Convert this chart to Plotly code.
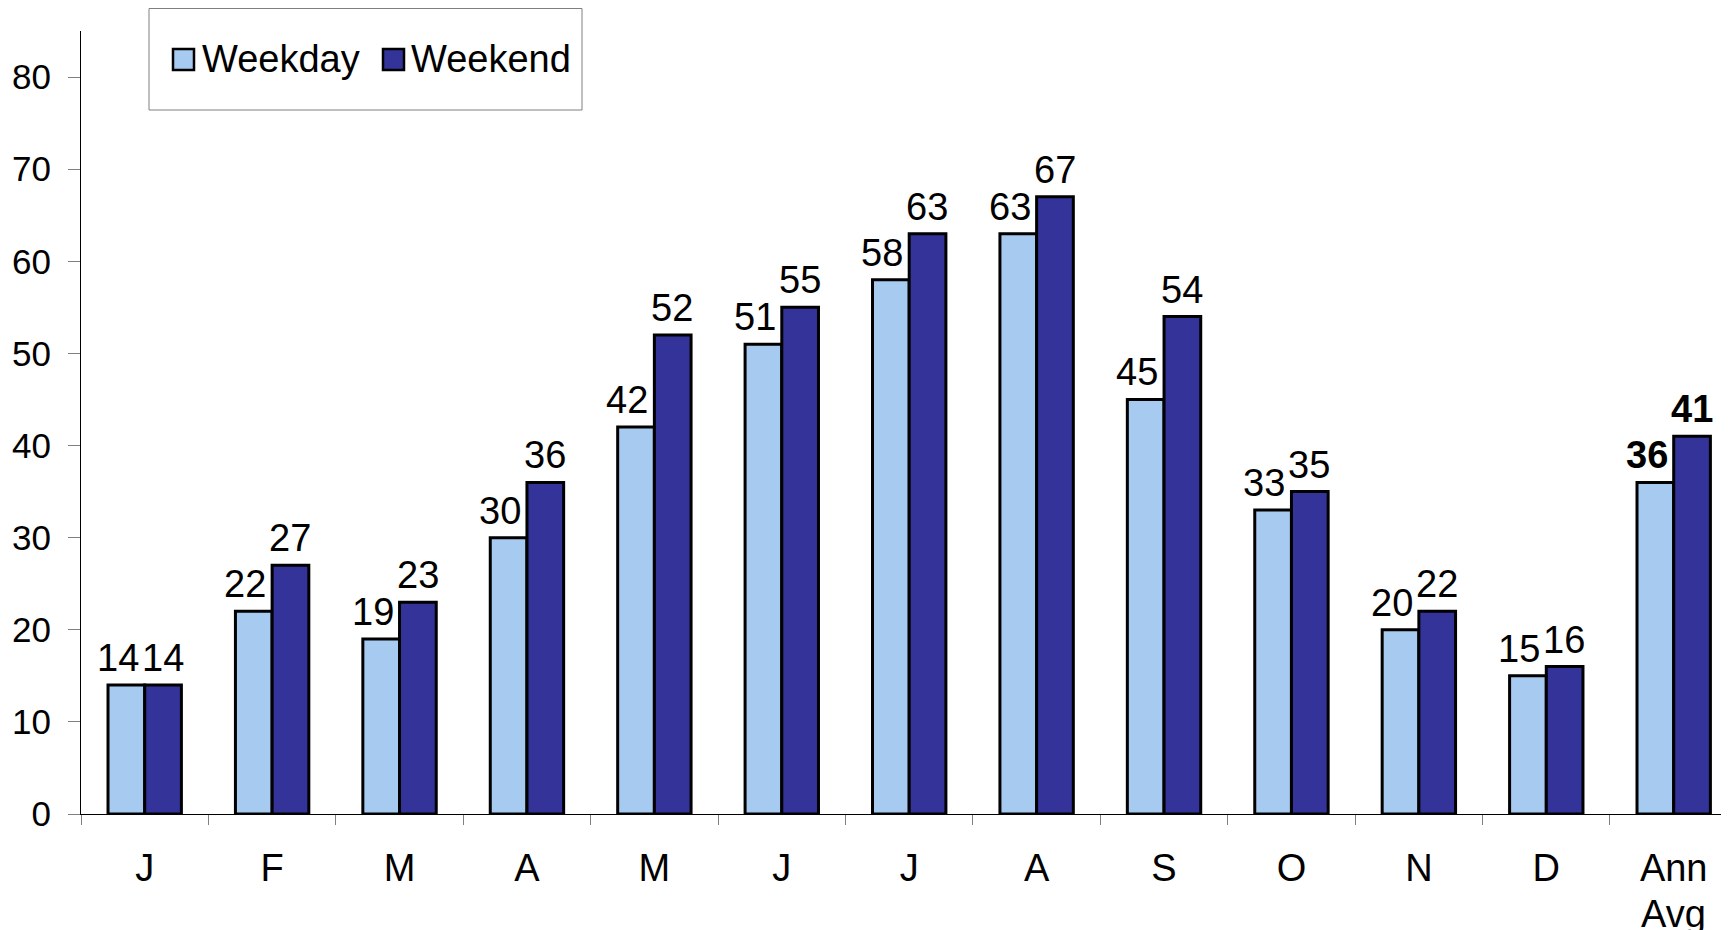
import plotly.graph_objects as go

months = ["J", "F", "M", "A", "M ", "J ", "J  ", "A ", "S", "O", "N", "D", "Ann Avg"]
tick_labels = ["J", "F", "M", "A", "M", "J", "J", "A", "S", "O", "N", "D", "Ann"]
tick_label_2nd_line = "Avg"
weekday = [14, 22, 19, 30, 42, 51, 58, 63, 45, 33, 20, 15, 36]
weekend = [14, 27, 23, 36, 52, 55, 63, 67, 54, 35, 22, 16, 41]
y_ticks = [0, 10, 20, 30, 40, 50, 60, 70, 80]
series_names = ["Weekday", "Weekend"]

C_WD = "#A6CAF0"
C_WE = "#333399"
FONT = "Liberation Sans, Arial, sans-serif"

W, H = 1721, 922           # page body has an 8px margin
L, T, B = 73, 23, 116
PW, PH = W - L, H - T - B

def px(xf):
    return (xf - L) / PW

def py(yf):
    return 1 - (yf - T) / PH

def label(vals, i):
    return ("<b>%d</b>" if i == len(vals) - 1 else "%d") % vals[i]

fig = go.Figure()
for name, vals, col in [(series_names[0], weekday, C_WD), (series_names[1], weekend, C_WE)]:
    fig.add_trace(go.Bar(
        x=months, y=vals, name=name, showlegend=False,
        marker=dict(color=col, line=dict(color="black", width=3)),
    ))

annotations = []
for vals, dx in [(weekday, -27), (weekend, 18)]:
    for i, m in enumerate(months):
        annotations.append(dict(
            x=m, y=vals[i], xref="x", yref="y", text=label(vals, i), showarrow=False,
            xanchor="center", yanchor="bottom", xshift=dx, yshift=4,
            font=dict(family=FONT, size=38, color="black"),
        ))

# second line of the last category label (tighter line spacing than plotly's default)
annotations.append(dict(x=months[-1], y=0, xref="x", yref="paper", text=tick_label_2nd_line,
                        showarrow=False, xanchor="center", yanchor="top", yshift=-77,
                        font=dict(family=FONT, size=38, color="black")))

# legend (drawn manually to get the larger swatches)
shapes = [dict(type="rect", xref="paper", yref="paper",
               x0=px(141), x1=px(574), y0=py(102), y1=py(0.5),
               line=dict(color="#808080", width=1), fillcolor="rgba(0,0,0,0)", layer="below")]
for (sx, tx), name, col in zip([(165, 192), (375, 401)], series_names, [C_WD, C_WE]):
    shapes.append(dict(type="rect", xref="paper", yref="paper",
                       x0=px(sx), x1=px(sx + 21), y0=py(62), y1=py(41),
                       line=dict(color="black", width=2.5), fillcolor=col))
    annotations.append(dict(x=px(tx), y=py(51.5), xref="paper", yref="paper", text=name,
                            showarrow=False, xanchor="left", yanchor="middle",
                            font=dict(family=FONT, size=38, color="black")))

fig.update_layout(
    width=W, height=H,
    margin=dict(l=L, r=0, t=T, b=B, pad=0),
    paper_bgcolor="white", plot_bgcolor="white",
    barmode="group", bargap=0.424, bargroupgap=0,
    font=dict(family=FONT, color="black"),
    showlegend=False,
    annotations=annotations,
    shapes=shapes,
)
fig.update_xaxes(
    type="category", range=[-0.5, 12.434], showline=True, linecolor="black", linewidth=1,
    tickvals=months, ticktext=tick_labels,
    ticks="outside", tickson="boundaries", ticklen=10, tickcolor="#808080",
    tickfont=dict(size=38, family=FONT), showgrid=False, zeroline=False,
    ticklabelstandoff=20, automargin=False,
)
fig.update_yaxes(
    range=[0, 85], tickvals=y_ticks, showline=True, linecolor="black", linewidth=1,
    ticks="outside", ticklen=12, tickcolor="#808080", tickfont=dict(size=35, family=FONT),
    showgrid=False, zeroline=False, ticklabelstandoff=10, automargin=False,
)

fig.write_html("out.html")
